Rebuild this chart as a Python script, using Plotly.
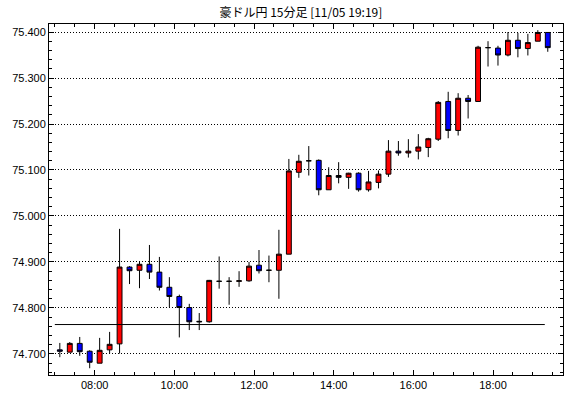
import plotly.graph_objects as go
import pandas as pd

title_text = "豪ドル円 15分足 [11/05 19:19]"

# 15-minute bars starting 07:00, plotted at the middle of each bar
bar_start = "2012-11-05 07:00"
bar_minutes = 15

opens = [74.709, 74.704, 74.723, 74.706, 74.680, 74.709, 74.722, 74.889, 74.882, 74.895,
         74.878, 74.845, 74.825, 74.801, 74.771, 74.770, 74.858, 74.858, 74.858, 74.859,
         74.893, 74.882, 74.882, 74.917, 75.095, 75.120, 75.121, 75.057, 75.088, 75.084,
         75.093, 75.057, 75.073, 75.091, 75.141, 75.137, 75.141, 75.149, 75.167, 75.249,
         75.186, 75.256, 75.249, 75.366, 75.365, 75.350, 75.382, 75.364, 75.380, 75.399]
highs = [74.724, 74.726, 74.737, 74.708, 74.735, 74.748, 74.972, 74.891, 74.900, 74.937,
         74.911, 74.867, 74.829, 74.809, 74.789, 74.861, 74.912, 74.867, 74.880, 74.900,
         74.926, 74.914, 74.970, 75.124, 75.133, 75.152, 75.123, 75.106, 75.117, 75.094,
         75.095, 75.098, 75.099, 75.165, 75.163, 75.167, 75.178, 75.170, 75.250, 75.270,
         75.267, 75.263, 75.370, 75.380, 75.370, 75.400, 75.398, 75.396, 75.404, 75.399]
lows = [74.693, 74.704, 74.696, 74.669, 74.680, 74.701, 74.701, 74.852, 74.843, 74.863,
        74.838, 74.802, 74.736, 74.752, 74.752, 74.768, 74.842, 74.807, 74.846, 74.857,
        74.875, 74.856, 74.820, 74.917, 75.083, 75.088, 75.045, 75.057, 75.071, 75.059,
        75.053, 75.053, 75.060, 75.085, 75.131, 75.127, 75.123, 75.128, 75.163, 75.169,
        75.175, 75.212, 75.249, 75.325, 75.327, 75.347, 75.345, 75.349, 75.380, 75.357]
closes = [74.706, 74.723, 74.705, 74.682, 74.708, 74.721, 74.889, 74.881, 74.895, 74.878,
          74.845, 74.825, 74.801, 74.770, 74.770, 74.860, 74.858, 74.858, 74.859, 74.891,
          74.881, 74.882, 74.917, 75.098, 75.119, 75.120, 75.057, 75.088, 75.084, 75.093,
          75.057, 75.074, 75.091, 75.141, 75.137, 75.141, 75.150, 75.168, 75.247, 75.186,
          75.256, 75.249, 75.367, 75.366, 75.350, 75.382, 75.364, 75.377, 75.399, 75.366]

ref_level = 74.764
ref_start = "2012-11-05 07:00"
ref_end = "2012-11-05 19:18"

y_ticks = [74.700, 74.800, 74.900, 75.000, 75.100, 75.200, 75.300, 75.400]
x_tick_start = "2012-11-05 08:00"

x = pd.date_range(bar_start, periods=len(opens), freq=f"{bar_minutes}min") + pd.Timedelta(minutes=bar_minutes / 2)

fig = go.Figure()
fig.add_trace(go.Candlestick(
    x=x, open=opens, high=highs, low=lows, close=closes,
    increasing=dict(line=dict(color="black", width=1), fillcolor="#FF0000"),
    decreasing=dict(line=dict(color="black", width=1), fillcolor="#0000FF"),
    whiskerwidth=0,
    showlegend=False,
    hoverinfo="x+y",
))

fig.add_shape(type="line", xref="x", yref="y",
              x0=ref_start, x1=ref_end, y0=ref_level, y1=ref_level,
              line=dict(color="black", width=1))

fig.update_layout(
    width=570, height=398,
    margin=dict(l=49, r=7, t=24, b=23),
    paper_bgcolor="white", plot_bgcolor="white",
    font=dict(family="Liberation Sans, Arial, sans-serif", size=11, color="black"),
    title=dict(text=title_text, x=0.49, xref="paper", xanchor="center",
               y=1 - 13 / 398, yref="container", yanchor="middle",
               font=dict(family="Noto Sans CJK JP", size=12, color="black")),
    showlegend=False,
    boxgap=0.3,
)

fig.update_xaxes(
    type="date",
    range=["2012-11-05 06:51:12", "2012-11-05 19:45:26"],
    rangeslider=dict(visible=False),
    tickformat="%H:%M",
    tick0=x_tick_start, dtick=2 * 3600 * 1000,
    ticks="inside", ticklen=5, tickcolor="black", tickwidth=1,
    minor=dict(dtick=30 * 60 * 1000, tick0=x_tick_start, ticks="inside", ticklen=3,
               tickcolor="black", showgrid=False),
    showgrid=False, zeroline=False,
    showline=True, linecolor="black", linewidth=1, mirror="ticks",
)

fig.update_yaxes(
    range=[74.6543, 75.4174],
    tickvals=y_ticks, tickformat=".3f",
    ticks="inside", ticklen=5, tickcolor="black", tickwidth=1,
    minor=dict(dtick=0.02, tick0=74.7, ticks="inside", ticklen=3, tickcolor="black",
               showgrid=False),
    showgrid=True, gridcolor="black", gridwidth=1, griddash="1px,2px",
    zeroline=False,
    showline=True, linecolor="black", linewidth=1, mirror="ticks",
)

fig.write_html("out.html")
